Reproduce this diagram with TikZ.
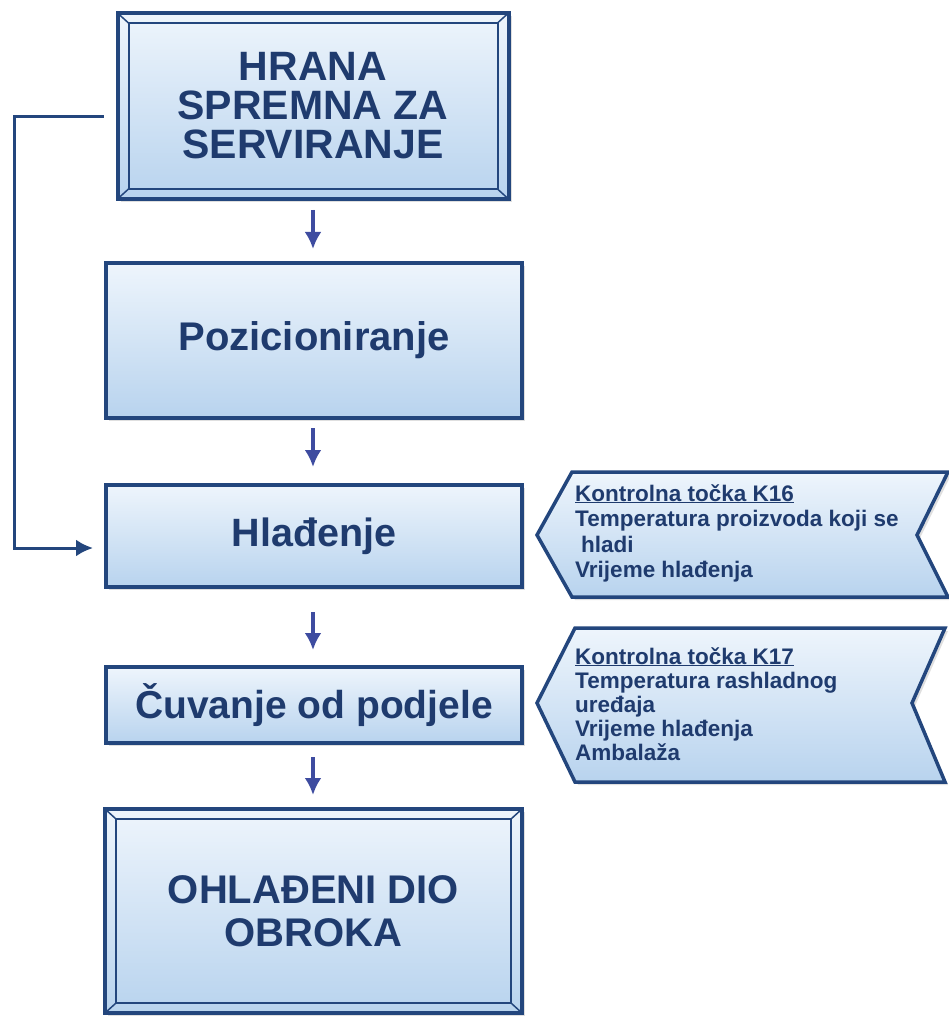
\documentclass[tikz,border=0pt]{standalone}
\usepackage{fontspec}
\setmainfont{Liberation Sans}
\usetikzlibrary{arrows.meta,shadows}
\definecolor{boxline}{RGB}{35,70,125}
\definecolor{boxtext}{RGB}{31,59,110}
\definecolor{arrowblue}{RGB}{62,76,160}
\definecolor{fillhi}{RGB}{238,245,252}
\definecolor{filllo}{RGB}{184,211,238}

\begin{document}
\begin{tikzpicture}[x=1pt, y=-1pt, >={Latex[length=17pt,width=17pt]},
  box/.style={draw=boxline, line width=4pt, rectangle, outer sep=0pt, top color=fillhi, bottom color=filllo,
    drop shadow={shadow xshift=3pt, shadow yshift=-3pt, opacity=0.25}, text=boxtext, align=center,
    font=\bfseries\fontsize{39.5}{39}\selectfont},
  chev/.style={draw=boxline, line width=3.5pt, top color=fillhi, bottom color=filllo,
    drop shadow={shadow xshift=3pt, shadow yshift=-3pt, opacity=0.25}},
  chevtext/.style={anchor=north west, inner sep=0pt, align=left, text=boxtext,
    font=\bfseries\fontsize{22.5}{25.5}\selectfont},
  arr/.style={->, draw=arrowblue, fill=arrowblue, line width=3.5pt},
  fbline/.style={->, draw=boxline, line width=3pt}]
  \useasboundingbox (0,0) rectangle (949,1016);
  \fill[white] (0,0) rectangle (949,1016);

  \node[box, minimum width=391pt, minimum height=186pt, font=\bfseries\fontsize{41}{39}\selectfont] (hrana) at (313,106) {HRANA\\SPREMNA ZA\\SERVIRANJE};
  \node[box, minimum width=416pt, minimum height=155pt, font=\bfseries\fontsize{40}{39}\selectfont] (poz) at (314,340.5) {Pozicioniranje};
  \node[box, minimum width=416pt, minimum height=102pt] (hlad) at (314,536) {Hlađenje};
  \node[box, minimum width=416pt, minimum height=76pt, font=\bfseries\fontsize{39}{39}\selectfont] (cuv) at (314,705) {Čuvanje od podjele};
  \node[box, minimum width=417pt, minimum height=204pt, font=\bfseries\fontsize{40}{43}\selectfont] (ohl) at (313.5,911) {OHLAĐENI DIO\\OBROKA};

  % bevel frames
  \foreach \b in {hrana,ohl}{
    \draw[boxline, line width=2pt] ([shift={(11pt,-10pt)}]\b.north west) rectangle ([shift={(-11pt,10pt)}]\b.south east);
    \draw[boxline, line width=1.5pt] (\b.north west) -- ++(11pt,-10pt);
    \draw[boxline, line width=1.5pt] (\b.north east) -- ++(-11pt,-10pt);
    \draw[boxline, line width=1.5pt] (\b.south west) -- ++(11pt,10pt);
    \draw[boxline, line width=1.5pt] (\b.south east) -- ++(-11pt,10pt);
  }

  \draw[arr, shorten <=11pt, shorten >=14pt] (hrana.south) -- (hrana.south |- poz.north);
  \draw[arr, shorten <=10pt, shorten >=18pt] (hrana.south |- poz.south) -- (hrana.south |- hlad.north);
  \draw[arr, shorten <=25pt, shorten >=17pt] (hrana.south |- hlad.south) -- (hrana.south |- cuv.north);
  \draw[arr, shorten <=14pt, shorten >=14pt] (hrana.south |- cuv.south) -- (hrana.south |- ohl.north);

  \coordinate (fbcorner) at (14,548);
  \draw[fbline] ([xshift=-14pt,yshift=-11pt]hrana.west) -| (fbcorner) -- ([xshift=-13pt,yshift=-12pt]hlad.west);

  \draw[chev] (572,472) -- (948,472) -- (917,535) -- (948,597) -- (572,597) -- (537,535) -- cycle;
  \draw[chev] (575,628) -- (945,628) -- (912,703) -- (945,782) -- (575,782) -- (537,703) -- cycle;

  \node[chevtext] (k16) at (575,484) {\underline{Kontrolna točka K16}\\Temperatura proizvoda koji se\\\hspace*{6pt}hladi\\Vrijeme hlađenja};
  \node[chevtext, font=\bfseries\fontsize{22.5}{24}\selectfont] (k17) at (575,647) {\underline{Kontrolna točka K17}\\Temperatura rashladnog\\uređaja\\Vrijeme hlađenja\\Ambalaža};
\end{tikzpicture}
\end{document}
